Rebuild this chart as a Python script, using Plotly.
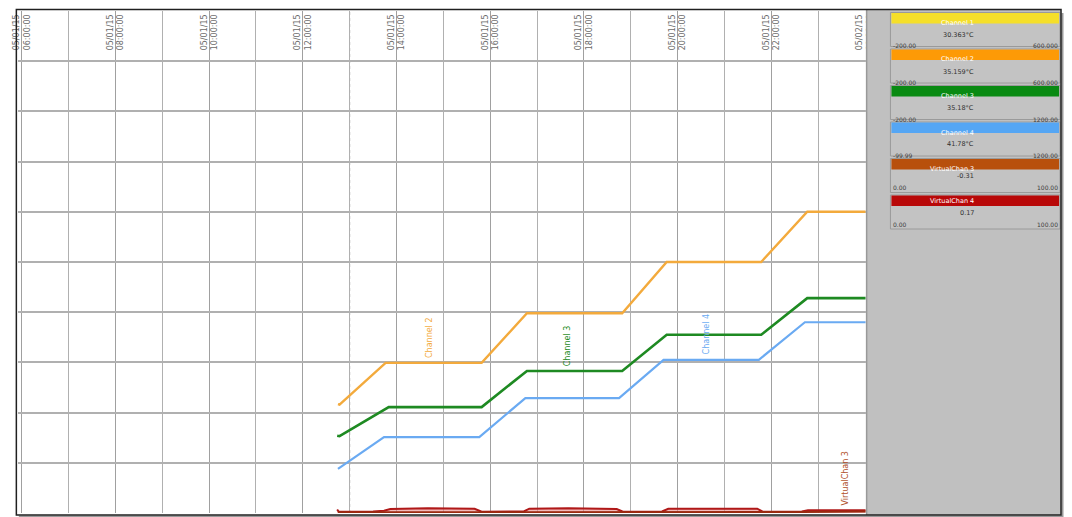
import plotly.graph_objects as go

W, H = 1072, 517

# ---------------- data ----------------
ch2_time = ["2015-05-01 12:45", "2015-05-01 12:47", "2015-05-01 13:46", "2015-05-01 15:49", "2015-05-01 16:47",
            "2015-05-01 18:49", "2015-05-01 19:46", "2015-05-01 21:47", "2015-05-01 22:46", "2015-05-02 00:01"]
ch2_vals = [21.7, 21.6, 29.9, 29.9, 39.8, 39.8, 50.0, 50.0, 60.0, 60.0]

ch3_time = ["2015-05-01 12:44", "2015-05-01 12:47", "2015-05-01 13:50", "2015-05-01 15:49", "2015-05-01 16:47",
            "2015-05-01 18:49", "2015-05-01 19:46", "2015-05-01 21:47", "2015-05-01 22:46", "2015-05-02 00:01"]
ch3_vals = [15.4, 15.3, 21.1, 21.1, 28.3, 28.3, 35.5, 35.5, 42.8, 42.8]

ch4_time = ["2015-05-01 12:45", "2015-05-01 13:44", "2015-05-01 15:46", "2015-05-01 16:45",
            "2015-05-01 18:45", "2015-05-01 19:42", "2015-05-01 21:44", "2015-05-01 22:43", "2015-05-02 00:01"]
ch4_vals = [8.8, 15.1, 15.1, 22.9, 22.9, 30.5, 30.5, 38.0, 38.0]

vc3_time = ["2015-05-01 12:45", "2015-05-01 13:40", "2015-05-01 15:50", "2015-05-01 16:45",
            "2015-05-01 18:50", "2015-05-01 19:42", "2015-05-01 21:48", "2015-05-01 22:40", "2015-05-02 00:01"]
vc3_vals = [0.15, 0.15, 0.15, 0.15, 0.15, 0.15, 0.15, 0.2, 0.3]

vc4_time = ["2015-05-01 12:44", "2015-05-01 12:46", "2015-05-01 13:30", "2015-05-01 13:44", "2015-05-01 13:52",
            "2015-05-01 14:40", "2015-05-01 15:40", "2015-05-01 15:49", "2015-05-01 16:43", "2015-05-01 16:50",
            "2015-05-01 17:40", "2015-05-01 18:42", "2015-05-01 18:50", "2015-05-01 19:40", "2015-05-01 19:48",
            "2015-05-01 20:40", "2015-05-01 21:42", "2015-05-01 21:49", "2015-05-01 22:39", "2015-05-01 22:47",
            "2015-05-01 23:30", "2015-05-02 00:01"]
vc4_vals = [0.7, 0.25, 0.3, 0.45, 0.8, 0.95, 0.85, 0.25, 0.3, 0.85, 0.95, 0.8, 0.25, 0.3, 0.85,
            0.9, 0.85, 0.25, 0.3, 0.55, 0.6, 0.55]

cursor_time = "2015-05-01 13:00"

label_names = ["Channel 2", "Channel 3", "Channel 4", "VirtualChan 3"]
label_times = ["2015-05-01 14:43", "2015-05-01 17:40", "2015-05-01 20:37", "2015-05-01 23:35"]
label_vals = [29.9, 28.3, 30.5, 0.4]

panel_names = ["Channel 1", "Channel 2", "Channel 3", "Channel 4", "VirtualChan 3", "VirtualChan 4"]
panel_values = ["30.363°C", "35.159°C", "35.18°C", "41.78°C", "-0.31", "0.17"]
panel_mins = ["-200.00", "-200.00", "-200.00", "-99.99", "0.00", "0.00"]
panel_maxs = ["600.000", "600.000", "1200.00", "1200.00", "100.00", "100.00"]

x_range = ["2015-05-01 05:55", "2015-05-02 00:01"]
y_range = [0, 100]

# ---------------- styles ----------------
C_ORANGE = "#f3aa3c"
C_GREEN = "#1e8a22"
C_BLUE = "#6aaaf2"
C_BROWN = "#9a2a10"
C_RED = "#b01818"
panel_colors = ["#f5df2a", "#fd9a06", "#098a12", "#55a6f4", "#b8500c", "#b80808"]
label_colors = [C_ORANGE, C_GREEN, C_BLUE, "#b0502a"]


def px(xp):
    return xp / W


def py(yp):
    return (H - yp) / H


fig = go.Figure()

fig.add_trace(go.Scatter(x=vc4_time, y=vc4_vals, mode="lines", name="VirtualChan 4",
                         line=dict(color=C_RED, width=2), fill="tozeroy",
                         fillcolor="rgba(235,140,140,0.6)"))
fig.add_trace(go.Scatter(x=vc3_time, y=vc3_vals, mode="lines", name="VirtualChan 3",
                         line=dict(color=C_BROWN, width=2)))
fig.add_trace(go.Scatter(x=ch4_time, y=ch4_vals, mode="lines", name="Channel 4",
                         line=dict(color=C_BLUE, width=2.2)))
fig.add_trace(go.Scatter(x=ch3_time, y=ch3_vals, mode="lines", name="Channel 3",
                         line=dict(color=C_GREEN, width=2.6)))
fig.add_trace(go.Scatter(x=ch2_time, y=ch2_vals, mode="lines", name="Channel 2",
                         line=dict(color=C_ORANGE, width=2.4)))

# channel labels along curves
for name, t, v, c in zip(label_names, label_times, label_vals, label_colors):
    fig.add_annotation(x=t, y=v, text=name, textangle=-90, showarrow=False,
                       xanchor="center", yanchor="bottom", yshift=3,
                       font=dict(family="DejaVu Sans", size=8, color=c))

# dotted cursor line
fig.add_shape(type="line", xref="x", yref="paper", x0=cursor_time, x1=cursor_time,
              y0=py(513), y1=py(11), layer="between", line=dict(color="white", width=2.5))
fig.add_shape(type="line", xref="x", yref="paper", x0=cursor_time, x1=cursor_time,
              y0=py(513), y1=py(11), layer="between", line=dict(color="#9a9a9a", width=1, dash="dot"))

shapes = []
# right gray panel
shapes.append(dict(type="rect", xref="paper", yref="paper", x0=px(872), x1=px(1070), y0=py(515), y1=py(10),
                   fillcolor="#c0c0c0", line=dict(width=0), layer="above"))
shapes.append(dict(type="line", xref="paper", yref="paper", x0=px(873), x1=px(873), y0=py(515), y1=py(10),
                   line=dict(color="#8a8a8a", width=1), layer="above"))

for i, (n, val, mn, mx, col) in enumerate(zip(panel_names, panel_values, panel_mins, panel_maxs, panel_colors)):
    top = 12.5 + 36.5 * i
    shapes.append(dict(type="rect", xref="paper", yref="paper", x0=px(897), x1=px(1069),
                       y0=py(top + 34), y1=py(top), fillcolor="#c3c3c3",
                       line=dict(color="#9a9a9a", width=1), layer="above"))
    shapes.append(dict(type="rect", xref="paper", yref="paper", x0=px(898), x1=px(1068),
                       y0=py(top + 11), y1=py(top + 0.5), fillcolor=col,
                       line=dict(width=0), layer="above"))
    fig.add_annotation(xref="paper", yref="paper", x=px(983), y=py(top + 5.5), text=n, showarrow=False,
                       borderpad=0, font=dict(family="DejaVu Sans", size=6.5, color="white"))
    fig.add_annotation(xref="paper", yref="paper", x=px(983), y=py(top + 17.5), text=val, showarrow=False,
                       borderpad=0, font=dict(family="DejaVu Sans", size=6.5, color="#303030"))
    fig.add_annotation(xref="paper", yref="paper", x=px(899), y=py(top + 29), text=mn, showarrow=False,
                       borderpad=0, xanchor="left", font=dict(family="DejaVu Sans", size=6, color="#404040"))
    fig.add_annotation(xref="paper", yref="paper", x=px(1068), y=py(top + 29), text=mx, showarrow=False,
                       borderpad=0, xanchor="right", font=dict(family="DejaVu Sans", size=6, color="#404040"))

# shadow + frame
shapes.append(dict(type="line", xref="paper", yref="paper", x0=px(13), x1=px(1072), y0=py(516.5), y1=py(516.5),
                   line=dict(color="#9a9a9a", width=2), layer="above"))
shapes.append(dict(type="line", xref="paper", yref="paper", x0=px(1071.5), x1=px(1071.5), y0=py(517), y1=py(13),
                   line=dict(color="#9a9a9a", width=2), layer="above"))
shapes.append(dict(type="rect", xref="paper", yref="paper", x0=px(10.5), x1=px(1070), y0=py(515), y1=py(9.5),
                   line=dict(color="#202020", width=1.5), layer="above"))

for s in shapes:
    fig.add_shape(**s)

grid_col = "#b0b0b0"
fig.update_layout(
    width=W, height=H,
    margin=dict(l=0, r=0, t=0, b=0),
    paper_bgcolor="white", plot_bgcolor="white",
    showlegend=False,
    xaxis=dict(type="date", range=x_range, domain=[px(12), px(872)],
               side="top", ticklabelposition="inside", tickangle=-90,
               ticklabeloverflow="allow", ticklabelstandoff=-4,
               tick0="2015-05-01 06:00", dtick=7200000,
               tickformat="%m/%d/%y<br>%H:%M:%S",
               tickfont=dict(family="DejaVu Sans", size=8, color="#6a6a6a"),
               showgrid=True, gridcolor="#a0a0a0", gridwidth=1.3,
               minor=dict(dtick=3600000, tick0="2015-05-01 06:00", showgrid=True,
                          gridcolor=grid_col, gridwidth=1.3),
               zeroline=False, showline=False, ticks="", fixedrange=True),
    yaxis=dict(range=y_range, domain=[py(513), py(11)], dtick=10,
               showticklabels=False, showgrid=True, gridcolor=grid_col, gridwidth=1.6,
               zeroline=False, showline=False, ticks="", fixedrange=True),
)

# remove the default 8px page margin so the figure fills the window exactly
fig.write_html("out.html", config={"displayModeBar": False},
               post_script="document.body.style.margin='0';document.body.style.overflow='hidden';")
